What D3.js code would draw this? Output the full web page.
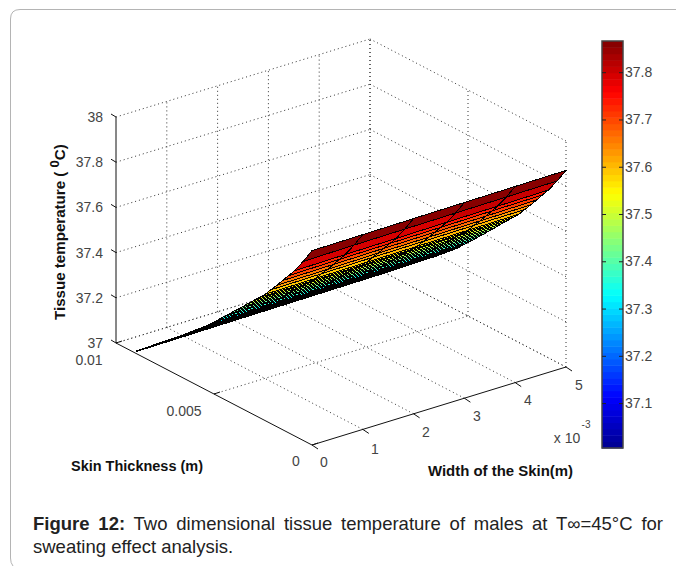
<!DOCTYPE html>
<html>
<head>
<meta charset="utf-8">
<script src="https://cdn.jsdelivr.net/npm/d3@7"></script>
<style>
html, body { margin: 0; padding: 0; background: #fff; overflow: hidden; }
text { font-family: "Liberation Sans", Arial, sans-serif; }
</style>
</head>
<body>
<script>
// values
var widthTicks = [0, 0.001, 0.002, 0.003, 0.004, 0.005];
var thicknessTicks = [0, 0.005, 0.01];
var tempTicks = [37, 37.2, 37.4, 37.6, 37.8, 38];
var colorbarTicks = [37.1, 37.2, 37.3, 37.4, 37.5, 37.6, 37.7, 37.8];
var widthGrid = [0, 0.001, 0.002, 0.003, 0.004, 0.005];
var thicknessGrid = [0, 0.00045, 0.0009, 0.0012, 0.0015, 0.0018, 0.0021, 0.0024, 0.0027,
    0.003, 0.0033, 0.0036, 0.0039, 0.0042, 0.0045, 0.0048, 0.0051, 0.0054, 0.0057,
    0.006, 0.0063, 0.0066, 0.0069, 0.0072, 0.0075, 0.0078, 0.0081, 0.0084, 0.0087, 0.009];
// one row per thickness, one column per width
var tissueTemp = [
    [37.860, 37.862, 37.864, 37.866, 37.868, 37.870],
    [37.792, 37.795, 37.797, 37.799, 37.801, 37.803],
    [37.730, 37.733, 37.735, 37.738, 37.740, 37.742],
    [37.695, 37.698, 37.700, 37.702, 37.705, 37.707],
    [37.660, 37.662, 37.665, 37.667, 37.669, 37.671],
    [37.625, 37.627, 37.630, 37.632, 37.634, 37.636],
    [37.592, 37.594, 37.597, 37.599, 37.601, 37.602],
    [37.558, 37.560, 37.562, 37.564, 37.566, 37.568],
    [37.530, 37.532, 37.534, 37.536, 37.538, 37.540],
    [37.503, 37.505, 37.507, 37.509, 37.511, 37.512],
    [37.475, 37.477, 37.479, 37.481, 37.482, 37.484],
    [37.447, 37.449, 37.451, 37.452, 37.454, 37.455],
    [37.420, 37.421, 37.423, 37.424, 37.426, 37.427],
    [37.392, 37.393, 37.395, 37.396, 37.398, 37.399],
    [37.365, 37.366, 37.367, 37.369, 37.370, 37.371],
    [37.337, 37.338, 37.339, 37.341, 37.342, 37.343],
    [37.310, 37.311, 37.312, 37.314, 37.315, 37.316],
    [37.282, 37.283, 37.285, 37.286, 37.288, 37.289],
    [37.258, 37.259, 37.261, 37.262, 37.264, 37.265],
    [37.235, 37.236, 37.238, 37.239, 37.241, 37.242],
    [37.210, 37.212, 37.213, 37.215, 37.216, 37.218],
    [37.187, 37.189, 37.190, 37.192, 37.194, 37.195],
    [37.165, 37.167, 37.168, 37.170, 37.172, 37.173],
    [37.142, 37.144, 37.146, 37.148, 37.150, 37.151],
    [37.120, 37.122, 37.124, 37.126, 37.128, 37.129],
    [37.097, 37.099, 37.101, 37.103, 37.105, 37.107],
    [37.075, 37.077, 37.079, 37.081, 37.083, 37.085],
    [37.052, 37.054, 37.056, 37.058, 37.060, 37.062],
    [37.030, 37.032, 37.034, 37.036, 37.038, 37.040],
    [37.008, 37.010, 37.012, 37.014, 37.016, 37.018]
];

var tempMin = 37.005;
var tempMax = 37.866;
var colorLevels = 64;

var svg = d3.select("body").append("svg")
    .attr("width", 676)
    .attr("height", 566)
    .style("display", "block");

// page card behind the figure, open on the right and at the bottom
svg.append("path")
    .attr("d", "M676,9.5 H20 Q10.5,9.5 10.5,19 V558 Q10.5,563 13,566")
    .attr("fill", "none")
    .attr("stroke", "#b4b4b4");

// oblique projection of the matlab box
var originX = 312, originY = 445;
var widthX = d3.scaleLinear().domain([0, 0.005]).range([0, 254]);
var widthY = d3.scaleLinear().domain([0, 0.005]).range([0, -78]);
var thickX = d3.scaleLinear().domain([0, 0.01]).range([0, -196]);
var thickY = d3.scaleLinear().domain([0, 0.01]).range([0, -102]);
var tempY = d3.scaleLinear().domain([37, 38]).range([0, -226]);

var project = function(w, t, z) {
    return [originX + widthX(w) + thickX(t), originY + widthY(w) + thickY(t) + tempY(z)];
};

var jet = d3.scaleLinear()
    .domain([0, 0.125, 0.375, 0.625, 0.875, 1])
    .range(["#00008f", "#0000ff", "#00ffff", "#ffff00", "#ff0000", "#800000"]);
var level = function(v) {
    var f = (v - tempMin) / (tempMax - tempMin);
    var k = Math.max(0, Math.min(colorLevels - 1, Math.floor(f * colorLevels)));
    return jet((k + 0.5) / colorLevels);
};

var line = d3.line();
var gridGroup = svg.append("g")
    .attr("fill", "none")
    .attr("stroke", "#333")
    .attr("stroke-width", 1)
    .attr("stroke-dasharray", "1,3");

var dotted = function(a, b) {
    gridGroup.append("path").attr("d", line([a, b]));
};

var wMax = 0.005, tMax = 0.01, zMin = 37, zMax = 38;

widthTicks.forEach(function(w) {
    if (w > 0) { dotted(project(w, 0, zMin), project(w, tMax, zMin)); }
    if (w > 0) { dotted(project(w, tMax, zMin), project(w, tMax, zMax)); }
});
thicknessTicks.forEach(function(t) {
    if (t > 0) { dotted(project(0, t, zMin), project(wMax, t, zMin)); }
    dotted(project(wMax, t, zMin), project(wMax, t, zMax));
});
tempTicks.forEach(function(z) {
    dotted(project(0, tMax, z), project(wMax, tMax, z));
    dotted(project(wMax, tMax, z), project(wMax, 0, z));
});

// surface cells, colour taken from the first corner like surf does
var cells = [];
thicknessGrid.slice(0, -1).forEach(function(t, i) {
    widthGrid.slice(0, -1).forEach(function(w, j) {
        cells.push({
            value: tissueTemp[i][j],
            corners: [
                project(w, t, tissueTemp[i][j]),
                project(widthGrid[j + 1], t, tissueTemp[i][j + 1]),
                project(widthGrid[j + 1], thicknessGrid[i + 1], tissueTemp[i + 1][j + 1]),
                project(w, thicknessGrid[i + 1], tissueTemp[i + 1][j])
            ]
        });
    });
});

// the lower rows close up into solid black in the original mesh
svg.append("g").selectAll("path")
    .data(cells)
    .enter().append("path")
    .attr("d", function(d) { return line(d.corners) + "Z"; })
    .attr("fill", function(d) { return level(d.value); })
    .attr("stroke", "#000")
    .attr("stroke-width", function(d) { return d.value < 37.3 ? 1.7 : 1; })
    .attr("shape-rendering", "crispEdges");

// solid axes
var axisGroup = svg.append("g").attr("stroke", "#111").attr("fill", "none");
axisGroup.append("path").attr("d", line([project(0, tMax, zMax), project(0, tMax, zMin), project(0, 0, zMin), project(wMax, 0, zMin)]));

tempTicks.forEach(function(z) {
    var p = project(0, tMax, z);
    axisGroup.append("path").attr("d", line([p, [p[0] - 5, p[1] - 3]]));
});
widthTicks.forEach(function(w) {
    var p = project(w, 0, zMin);
    axisGroup.append("path").attr("d", line([p, [p[0] + 6, p[1] + 4]]));
});
thicknessTicks.forEach(function(t) {
    var p = project(0, t, zMin);
    axisGroup.append("path").attr("d", line([p, [p[0] + 6, p[1] - 2]]));
});

var label = function(x, y, str, anchor) {
    return svg.append("text")
        .attr("x", x).attr("y", y)
        .attr("font-size", 14)
        .attr("fill", "#444")
        .attr("text-anchor", anchor || "middle")
        .text(str);
};

tempTicks.forEach(function(z) {
    var p = project(0, tMax, z);
    label(103, p[1] + 5, String(z), "end");
});
var widthLabelAt = [[324, 467], [375, 454], [426, 437], [477, 421], [528, 405], [579, 390]];
widthTicks.forEach(function(w, i) {
    label(widthLabelAt[i][0], widthLabelAt[i][1], String(Math.round(w * 1000)));
});
var thickLabelAt = [[296, 466], [184, 416], [89, 365]];
thicknessTicks.forEach(function(t, i) {
    label(thickLabelAt[i][0], thickLabelAt[i][1], String(t));
});
label(567, 443, "x 10");
svg.append("text").attr("x", 586).attr("y", 428).attr("font-size", 10).attr("fill", "#444")
    .attr("text-anchor", "middle").text("-3");

// axis titles
var boldLabel = function(x, y, str, len) {
    return svg.append("text")
        .attr("x", x).attr("y", y)
        .attr("font-size", 14)
        .attr("font-weight", "bold")
        .attr("fill", "#111")
        .attr("textLength", len)
        .attr("lengthAdjust", "spacingAndGlyphs")
        .text(str);
};
boldLabel(71, 471, "Skin Thickness (m)", 132);
boldLabel(428, 476, "Width of the Skin(m)", 145);

var zTitle = svg.append("text")
    .attr("transform", "translate(65,320) rotate(-90) scale(1.08,1)")
    .attr("font-size", 14)
    .attr("font-weight", "bold")
    .attr("fill", "#111");
zTitle.append("tspan").text("Tissue temperature ( ");
zTitle.append("tspan").attr("dy", -6).attr("font-size", 12).text("0");
zTitle.append("tspan").attr("dy", 6).text("C)");

// colorbar
var barLeft = 602, barRight = 623, barTop = 41, barBottom = 448;
var barY = d3.scaleLinear().domain([tempMin, tempMax]).range([barBottom, barTop]);
var barLevels = d3.range(colorLevels);
var bandH = (barBottom - barTop) / colorLevels;
svg.append("g").selectAll("rect")
    .data(barLevels)
    .enter().append("rect")
    .attr("x", barLeft)
    .attr("width", barRight - barLeft)
    .attr("y", function(k) { return barBottom - (k + 1) * bandH; })
    .attr("height", bandH + 0.5)
    .attr("fill", function(k) { return jet((k + 0.5) / colorLevels); });
svg.append("rect")
    .attr("x", barLeft).attr("y", barTop)
    .attr("width", barRight - barLeft).attr("height", barBottom - barTop)
    .attr("fill", "none").attr("stroke", "#444").attr("stroke-width", 1.5);

var barRightAxis = svg.append("g")
    .attr("transform", "translate(" + barRight + ",0)")
    .call(d3.axisRight(barY).tickValues(colorbarTicks).tickSize(-4).tickPadding(2).tickFormat(d3.format(".1f")));
barRightAxis.select(".domain").remove();
barRightAxis.selectAll("line").attr("stroke", "#222");
barRightAxis.selectAll("text")
    .attr("font-size", 14)
    .attr("font-family", '"Liberation Sans", Arial, sans-serif')
    .attr("fill", "#444");

var barLeftAxis = svg.append("g")
    .attr("transform", "translate(" + barLeft + ",0)")
    .call(d3.axisLeft(barY).tickValues(colorbarTicks).tickSize(-4).tickFormat(""));
barLeftAxis.select(".domain").remove();
barLeftAxis.selectAll("line").attr("stroke", "#222");

// caption
var caption = svg.append("text")
    .attr("x", 33).attr("y", 530)
    .attr("font-size", 18.5)
    .attr("fill", "#222");
caption.append("tspan").attr("font-weight", "bold").text("Figure 12:");
caption.append("tspan").text(" Two dimensional tissue temperature of males at T\u221E=45\u00B0C for");
var spare = 630 - caption.node().getComputedTextLength();
caption.attr("word-spacing", spare / 10);
svg.append("text")
    .attr("x", 33).attr("y", 553)
    .attr("font-size", 18.5)
    .attr("fill", "#222")
    .text("sweating effect analysis.");
</script>
</body>
</html>
